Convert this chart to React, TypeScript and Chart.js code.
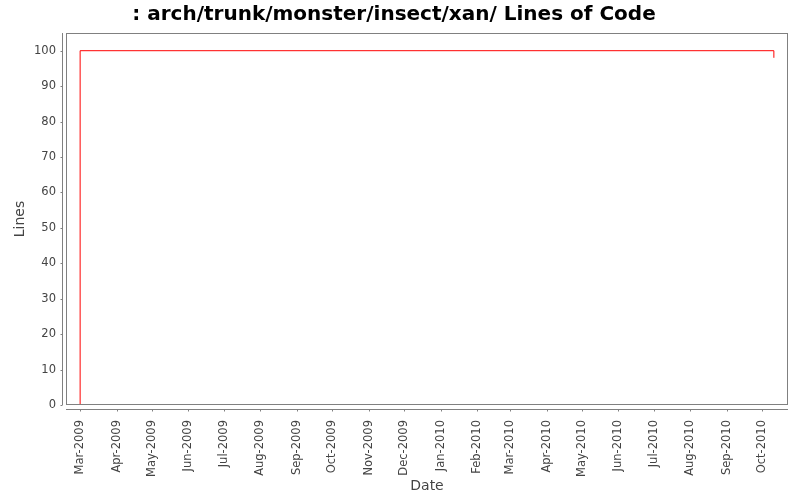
import { useEffect, useRef } from "react"
import { Chart, registerables } from "chart.js"

Chart.register(...registerables)

// commit dates and line counts (step chart)
const commitDates = ["2009-03-01", "2009-03-01", "2010-10-11"]
const linesOfCode = [0, 100, 98]

const monthNames = ["Jan", "Feb", "Mar", "Apr", "May", "Jun", "Jul", "Aug", "Sep", "Oct", "Nov", "Dec"]
// x tick labels: first day of each month, Mar-2009 .. Oct-2010
const tickMonths = [
  "2009-03", "2009-04", "2009-05", "2009-06", "2009-07", "2009-08", "2009-09", "2009-10",
  "2009-11", "2009-12", "2010-01", "2010-02", "2010-03", "2010-04", "2010-05", "2010-06",
  "2010-07", "2010-08", "2010-09", "2010-10",
]
const yTicks = [0, 10, 20, 30, 40, 50, 60, 70, 80, 90, 100]

const toTime = (s: string) => {
  const [y, m, d] = s.split("-").map(Number)
  return Date.UTC(y, m - 1, d || 1)
}

const xMin = Date.UTC(2009, 1, 17)
const xMax = Date.UTC(2010, 9, 23)

const GRAY = "#808080"
const TEXT = "#444444"
const FONT = "'DejaVu Sans', sans-serif"

// JFreeChart style: plot outline plus axis lines offset by 4px
const axisLinesPlugin = {
  id: "axisLines",
  afterDraw: (chart: any) => {
    const { ctx, chartArea, scales } = chart
    const { left, right, top, bottom } = chartArea
    ctx.save()
    ctx.strokeStyle = GRAY
    ctx.lineWidth = 1
    ctx.strokeRect(left + 0.5, top + 0.5, right - left - 1, bottom - top - 1)

    ctx.beginPath()
    const ax = left - 4 + 0.5
    ctx.moveTo(ax, top)
    ctx.lineTo(ax, bottom)
    scales.y.ticks.forEach((t: any) => {
      const py = Math.round(scales.y.getPixelForValue(t.value)) + 0.5
      ctx.moveTo(ax - 2, py)
      ctx.lineTo(ax, py)
    })
    const ay = bottom + 4 + 0.5
    ctx.moveTo(left, ay)
    ctx.lineTo(right, ay)
    scales.x.ticks.forEach((t: any) => {
      const px = Math.round(scales.x.getPixelForValue(t.value)) + 0.5
      ctx.moveTo(px, ay)
      ctx.lineTo(px, ay + 2)
    })
    ctx.stroke()
    ctx.restore()
  },
}

export default function App() {
  const chartRef = useRef<HTMLCanvasElement>(null)
  const chartInstance = useRef<Chart | null>(null)

  useEffect(() => {
    document.body.style.margin = "0"
    if (!chartRef.current) return
    const ctx = chartRef.current.getContext("2d")
    if (!ctx) return
    if (chartInstance.current) chartInstance.current.destroy()

    chartInstance.current = new Chart(ctx, {
      type: "line",
      data: {
        datasets: [
          {
            data: commitDates.map((d, i) => ({ x: toTime(d), y: linesOfCode[i] })),
            borderColor: "#ff0000",
            borderWidth: 1,
            pointRadius: 0,
            stepped: true,
            fill: false,
          },
        ],
      },
      options: {
        animation: false,
        responsive: true,
        maintainAspectRatio: false,
        layout: { padding: { top: 0, right: 12, bottom: 0, left: 0 } },
        plugins: {
          legend: { display: false },
          tooltip: { enabled: false },
          title: {
            display: true,
            text: ": arch/trunk/monster/insect/xan/ Lines of Code",
            color: "#000000",
            font: { family: FONT, size: 20, weight: "bold" },
            padding: { top: 3, bottom: 6 },
          },
        },
        scales: {
          x: {
            type: "linear",
            min: xMin,
            max: xMax,
            afterBuildTicks: (scale: any) => {
              scale.ticks = tickMonths.map((m) => ({ value: toTime(m) }))
            },
            afterFit: (scale: any) => {
              scale.height = 95
            },
            grid: { display: false, drawTicks: false },
            border: { display: false },
            ticks: {
              autoSkip: false,
              minRotation: 90,
              maxRotation: 90,
              padding: 15,
              color: TEXT,
              font: { family: FONT, size: 11.5 },
              callback: (v: any) => {
                const d = new Date(v)
                return `${monthNames[d.getUTCMonth()]}-${d.getUTCFullYear()}`
              },
            },
            title: {
              display: true,
              text: "Date",
              color: TEXT,
              font: { family: FONT, size: 14 },
              padding: { top: 0, bottom: 5 },
            },
          },
          y: {
            min: 0,
            max: 105,
            afterBuildTicks: (scale: any) => {
              scale.ticks = yTicks.map((v) => ({ value: v }))
            },
            afterFit: (scale: any) => {
              scale.width = 66
            },
            grid: { display: false, drawTicks: false },
            border: { display: false },
            ticks: {
              padding: 10,
              color: TEXT,
              font: { family: FONT, size: 11.5 },
            },
            title: {
              display: true,
              text: "Lines",
              color: TEXT,
              font: { family: FONT, size: 14 },
              padding: { top: 12, bottom: 0 },
            },
          },
        },
      } as any,
      plugins: [axisLinesPlugin],
    })

    return () => {
      if (chartInstance.current) {
        chartInstance.current.destroy()
        chartInstance.current = null
      }
    }
  }, [])

  return (
    <div style={{ width: 800, height: 500, position: "relative", background: "#ffffff" }}>
      <canvas ref={chartRef} />
    </div>
  )
}
